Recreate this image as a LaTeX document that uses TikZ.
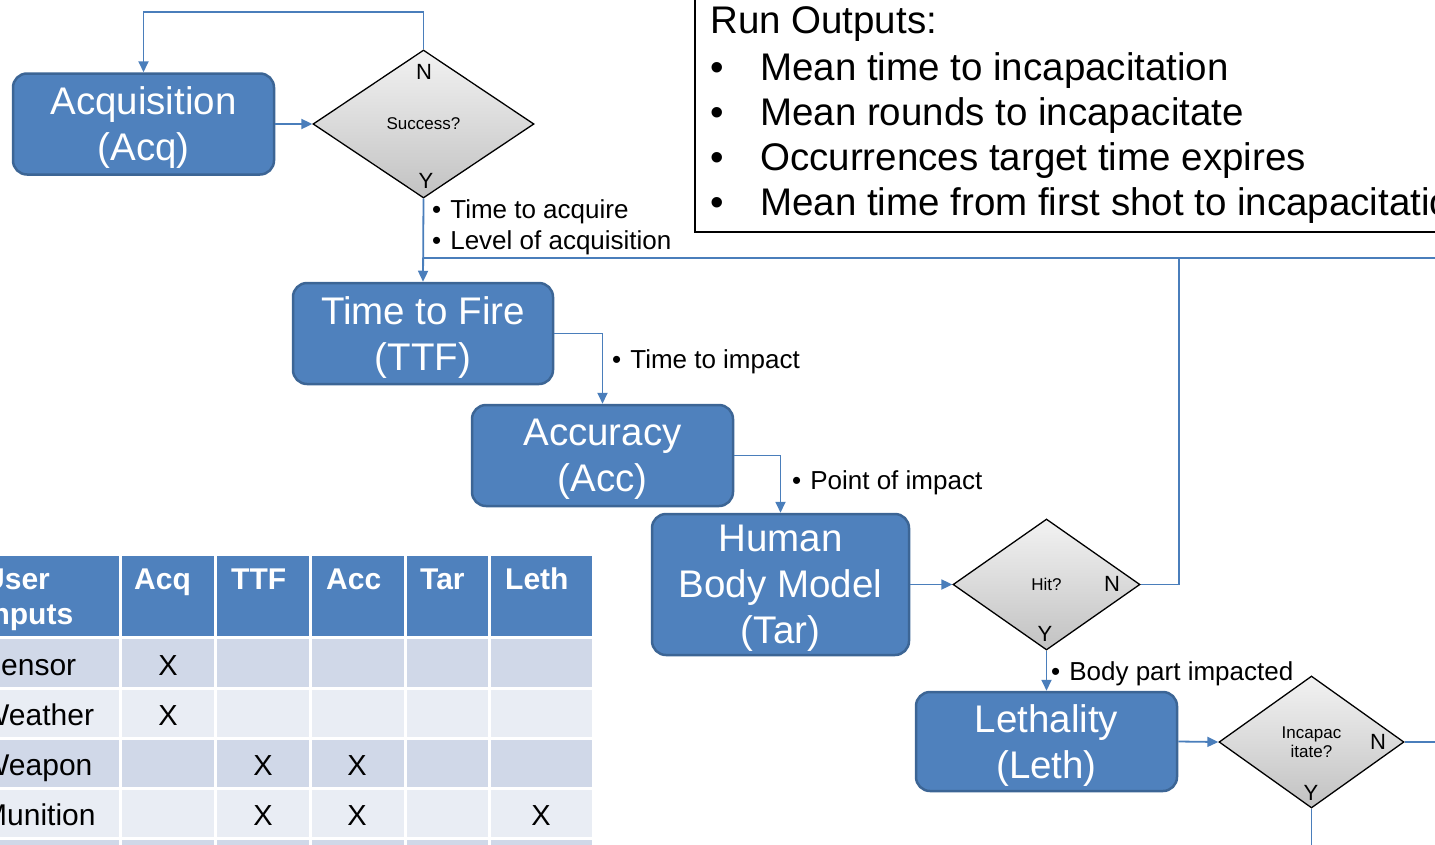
\documentclass[tikz,border=0pt]{standalone}
\usepackage{fontspec}
\setmainfont{Liberation Sans}
\usetikzlibrary{shapes.geometric,arrows.meta}
\definecolor{boxblue}{HTML}{4F81BD}
\definecolor{boxedge}{HTML}{3C6595}
\definecolor{linkblue}{HTML}{4A7EBB}
\definecolor{rowdark}{HTML}{D0D8E8}
\definecolor{rowlight}{HTML}{E9EDF4}
\tikzset{
  module/.style={rounded corners=14pt, fill=boxblue, draw=boxedge, line width=2.5pt,
    text=white, align=center, font=\fontsize{38.5}{46}\selectfont, inner sep=0pt,
    text depth=0pt},
  decision/.style={diamond, draw=black, line width=1.3pt, top color=gray!10,
    bottom color=gray!48, inner sep=0pt, align=center,
    font=\fontsize{17}{20}\selectfont},
  yn/.style={font=\fontsize{22}{24}\selectfont, inner sep=0pt},
  link/.style={draw=linkblue, line width=1.8pt},
  flow/.style={link, -{Triangle[length=11pt,width=10pt]}},
  note/.style={font=\fontsize{26}{31}\selectfont, anchor=base west, inner sep=0pt},
  outline/.style={font=\fontsize{38.5}{45}\selectfont, anchor=base west, inner sep=0pt},
  headtxt/.style={font=\bfseries\fontsize{30}{35}\selectfont, text=white, anchor=base west, inner sep=0pt},
  celltxt/.style={font=\fontsize{30}{34}\selectfont, anchor=base west, inner sep=0pt},
  xmark/.style={font=\fontsize{29}{34}\selectfont, anchor=base, inner sep=0pt},
  cellbox/.style={draw=white, line width=3pt}
}
\begin{document}
\begin{tikzpicture}[x=1pt, y=-1pt]
\useasboundingbox (0,0) rectangle (1435,844);
\clip (0,0) rectangle (1435,844);

% ---- input table ----
\foreach \xa/\xb in {-100/120, 120/215.5, 215.5/310.5, 310.5/405.5, 405.5/489.5, 489.5/593}{
  \path[cellbox, fill=boxblue] (\xa,554) rectangle (\xb,637);
  \path[cellbox, fill=rowdark] (\xa,637) rectangle (\xb,688);
  \path[cellbox, fill=rowlight] (\xa,688) rectangle (\xb,738);
  \path[cellbox, fill=rowdark] (\xa,738) rectangle (\xb,788);
  \path[cellbox, fill=rowlight] (\xa,788) rectangle (\xb,838);
  \path[cellbox, fill=rowdark] (\xa,838) rectangle (\xb,890);
}
\node[headtxt] (hUser) at (-17,589) {User};
\node[headtxt] (hInputs) at (-17,624) {Inputs};
\node[headtxt] (hAcq) at (134,589) {Acq};
\node[headtxt] (hTTF) at (231,589) {TTF};
\node[headtxt] (hAcc) at (326,589) {Acc};
\node[headtxt] (hTar) at (420,589) {Tar};
\node[headtxt] (hLeth) at (505,589) {Leth};
\node[celltxt] (rSensor) at (-19,675) {Sensor};
\node[celltxt] (rWeather) at (-19,725) {Weather};
\node[celltxt] (rWeapon) at (-19,775) {Weapon};
\node[celltxt] (rMunition) at (-18,825) {Munition};
\node[xmark] (x1) at (168,675) {X};
\node[xmark] (x2) at (168,725) {X};
\node[xmark] (x3) at (263,775) {X};
\node[xmark] (x4) at (357,775) {X};
\node[xmark] (x5) at (263,825) {X};
\node[xmark] (x6) at (357,825) {X};
\node[xmark] (x7) at (541,825) {X};

% ---- run outputs ----
\node[draw=black, line width=1.8pt, minimum width=800pt, minimum height=270pt,
      anchor=south west, inner sep=0pt] (outs) at (694,233) {};
\node[outline] (oTitle) at (710,33) {Run Outputs:};
\foreach \yy/\txt/\nm in {80/Mean time to incapacitation/o1,
                         125/Mean rounds to incapacitate/o2,
                         170/Occurrences target time expires/o3,
                         215/Mean time from first shot to incapacitation/o4}{
  \node[outline] (\nm b) at (710,\yy) {\textbullet};
  \node[outline] (\nm) at (760,\yy) {\txt};
}

% ---- modules ----
\node[module, minimum width=261pt, minimum height=101pt] (acq) at (143.5,124) {Acquisition\\(Acq)};
\node[module, minimum width=260pt, minimum height=101pt] (ttf) at (423,333.5) {Time to Fire\\(TTF)};
\node[module, minimum width=261pt, minimum height=101pt] (acc) at (602.5,455.5) {Accuracy\\(Acc)};
\node[module, minimum width=257pt, minimum height=141pt] (tar) at (780.5,584.5) {Human\\Body Model\\(Tar)};
\node[module, minimum width=261pt, minimum height=99pt] (leth) at (1046.5,741.5) {Lethality\\(Leth)};

% ---- decisions ----
\node[decision, minimum width=221pt, minimum height=148pt] (succ) at (423.5,124) {Success?};
\node[decision, minimum width=187pt, minimum height=131pt] (hit) at (1046.5,584.5) {Hit?};
\node[decision, minimum width=185pt, minimum height=132pt] (inc) at (1311.5,742) {Incapac\\[-1pt]itate?};
\node[yn] (succN) at (424,72) {N};
\node[yn] (succY) at (426,181) {Y};
\node[yn] (hitN) at (1112,584) {N};
\node[yn] (hitY) at (1045,634) {Y};
\node[yn] (incN) at (1378,742) {N};
\node[yn] (incY) at (1311,793) {Y};

% ---- connectors ----
\coordinate (busL) at (423.5,258);
\coordinate (busR) at (1460,258);
\coordinate (busTurn) at (1179,258);
\coordinate (incOut) at (1460,742);
\coordinate (incDown) at (1311.5,880);
\draw[flow] (succ.north) -- ++(0,-37) -| (acq.north);
\draw[flow] (acq.east) -- (succ.west);
\draw[flow] (succ.south) -- (ttf.north);
\draw[link] (busL) -- (busR);
\draw[link] (hit.east) -| (busTurn);
\draw[flow] (ttf.east) -| (acc.north);
\draw[flow] (acc.east) -| (tar.north);
\draw[flow] (tar.east) -- (hit.west);
\draw[flow] (hit.south) -- (leth.north);
\draw[flow] (leth.east) -- (inc.west);
\draw[link] (inc.east) -- (incOut);
\draw[link] (inc.south) -- (incDown);

% ---- data passed between modules ----
\node[note] (n1) at (432,218) {\textbullet\hspace{9pt}Time to acquire};
\node[note] (n2) at (432,249) {\textbullet\hspace{9pt}Level of acquisition};
\node[note] (n3) at (612,368) {\textbullet\hspace{9pt}Time to impact};
\node[note] (n4) at (792,489) {\textbullet\hspace{9pt}Point of impact};
\node[note] (n5) at (1051,680) {\textbullet\hspace{9pt}Body part impacted};
\end{tikzpicture}
\end{document}
